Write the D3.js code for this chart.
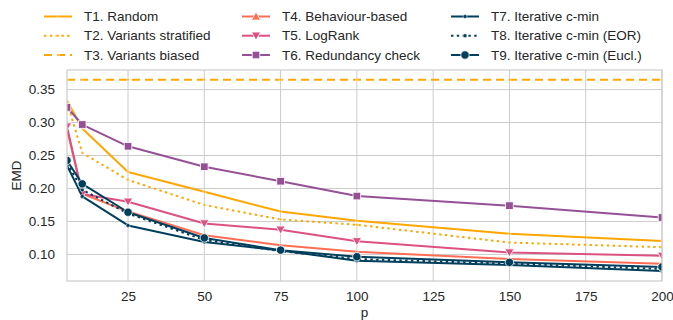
<!DOCTYPE html>
<html>
<head>
<meta charset="utf-8">
<script src="https://cdn.jsdelivr.net/npm/d3@7"></script>
<style>
  body { margin: 0; background: #fff; }
  text { font-family: "Liberation Sans", Arial, sans-serif; fill: #262626; }
</style>
</head>
<body>
<svg id="chart" width="673" height="320"></svg>
<script>
const width = 673;
const height = 320;
const margin = { top: 70, right: 11, bottom: 39, left: 67 };

// sample sizes on the x axis
const pValues = [5, 10, 25, 50, 75, 100, 150, 200];

const t1Random = [0.333, 0.291, 0.225, 0.195, 0.165, 0.151, 0.1315, 0.1205];
const t2Stratified = [0.331, 0.254, 0.213, 0.175, 0.153, 0.145, 0.118, 0.111];
const t3Biased = [0.365, 0.365, 0.365, 0.365, 0.365, 0.365, 0.365, 0.365];
const t4Behaviour = [0.29, 0.192, 0.165, 0.129, 0.114, 0.104, 0.093, 0.086];
const t5LogRank = [0.294, 0.1915, 0.180, 0.147, 0.1375, 0.120, 0.103, 0.098];
const t6Redundancy = [0.323, 0.297, 0.264, 0.233, 0.211, 0.1885, 0.174, 0.156];
const t7Iterative = [0.235, 0.188, 0.144, 0.119, 0.106, 0.0905, 0.084, 0.075];
const t8IterativeEor = [0.239, 0.198, 0.162, 0.122, 0.105, 0.093, 0.086, 0.078];
const t9IterativeEucl = [0.2425, 0.207, 0.164, 0.125, 0.1065, 0.0965, 0.088, 0.081];

const xTicks = [25, 50, 75, 100, 125, 150, 175, 200];
const yTicks = [0.10, 0.15, 0.20, 0.25, 0.30, 0.35];

const orange = '#ffa600';
const navy = '#003f5c';

const series = [
  { name: 'T1. Random', values: t1Random, color: orange, dash: null, marker: 'dot', size: 1.3 },
  { name: 'T2. Variants stratified', values: t2Stratified, color: orange, dash: '2.4,3.4', marker: 'dot', size: 1.3 },
  { name: 'T3. Variants biased', values: t3Biased, color: orange, dash: '8,5', marker: 'dot', size: 1.3 },
  { name: 'T4. Behaviour-based', values: t4Behaviour, color: '#ff6e54', dash: null, marker: 'dot', size: 1.3, legendMarker: 'triangleUp' },
  { name: 'T5. LogRank', values: t5LogRank, color: '#dd5182', dash: null, marker: 'triangleDown' },
  { name: 'T6. Redundancy check', values: t6Redundancy, color: '#955196', dash: null, marker: 'square' },
  { name: 'T7. Iterative c-min', values: t7Iterative, color: navy, dash: null, marker: 'dot', size: 2 },
  { name: 'T8. Iterative c-min (EOR)', values: t8IterativeEor, color: navy, dash: '2.4,3.4', marker: 'dot', size: 2 },
  { name: 'T9. Iterative c-min (Eucl.)', values: t9IterativeEucl, color: navy, dash: null, marker: 'circle' },
];

const svg = d3.select('#chart');

const x = d3.scaleLinear()
  .domain([5, 200])
  .range([margin.left, width - margin.right]);

const y = d3.scaleLinear()
  .domain([0.0597, 0.3797])
  .range([height - margin.bottom, margin.top]);

// grid
const grid = svg.append('g').attr('class', 'grid');
grid.selectAll('.vgrid')
  .data(xTicks)
  .enter()
  .append('line')
  .attr('x1', d => x(d))
  .attr('x2', d => x(d))
  .attr('y1', margin.top)
  .attr('y2', height - margin.bottom)
  .attr('stroke', '#cccccc')
  .attr('stroke-width', 1);
grid.selectAll('.hgrid')
  .data(yTicks)
  .enter()
  .append('line')
  .attr('x1', margin.left)
  .attr('x2', width - margin.right)
  .attr('y1', d => y(d))
  .attr('y2', d => y(d))
  .attr('stroke', '#cccccc')
  .attr('stroke-width', 1);

svg.append('defs')
  .append('clipPath')
  .attr('id', 'plot-clip')
  .append('rect')
  .attr('x', margin.left)
  .attr('y', margin.top)
  .attr('width', width - margin.left - margin.right)
  .attr('height', height - margin.top - margin.bottom);

function drawMarker(sel, type, color, size) {
  if (type === 'circle') {
    sel.append('circle').attr('r', 4.2)
      .attr('fill', color).attr('stroke', '#fff').attr('stroke-width', 0.8);
  } else if (type === 'dot') {
    sel.append('circle').attr('r', size || 1.5)
      .attr('fill', color).attr('stroke', '#fff').attr('stroke-width', 0.5);
  } else if (type === 'square') {
    sel.append('rect').attr('x', -3.8).attr('y', -3.8).attr('width', 7.6).attr('height', 7.6)
      .attr('fill', color).attr('stroke', '#fff').attr('stroke-width', 0.8);
  } else if (type === 'triangleDown') {
    sel.append('path').attr('d', 'M-4.6,-3.6L4.6,-3.6L0,4.4Z')
      .attr('fill', color).attr('stroke', '#fff').attr('stroke-width', 0.8);
  } else if (type === 'triangleUp') {
    sel.append('path').attr('d', 'M-4.6,3.6L4.6,3.6L0,-4.4Z')
      .attr('fill', color).attr('stroke', '#fff').attr('stroke-width', 0.8);
  }
}

const line = d3.line()
  .x(d => x(d.p))
  .y(d => y(d.v));

const plot = svg.append('g').attr('clip-path', 'url(#plot-clip)');

series.forEach((s) => {
  const pts = pValues.map((p, i) => ({ p, v: s.values[i] }));
  const g = plot.append('g');
  g.append('path')
    .datum(pts)
    .attr('d', line)
    .attr('fill', 'none')
    .attr('stroke', s.color)
    .attr('stroke-width', 2)
    .attr('stroke-dasharray', s.dash)
    .attr('stroke-linejoin', 'round');
  g.selectAll('.marker')
    .data(pts)
    .enter()
    .append('g')
    .attr('transform', d => `translate(${x(d.p)},${y(d.v)})`)
    .each(function () { drawMarker(d3.select(this), s.marker, s.color, s.size); });
});

// frame
svg.append('rect')
  .attr('x', margin.left)
  .attr('y', margin.top)
  .attr('width', width - margin.left - margin.right)
  .attr('height', height - margin.top - margin.bottom)
  .attr('fill', 'none')
  .attr('stroke', '#cccccc')
  .attr('stroke-width', 1.2);

// axes (labels only, seaborn whitegrid has no tick marks)
const xAxis = svg.append('g')
  .attr('transform', `translate(0,${height - margin.bottom})`)
  .call(d3.axisBottom(x).tickValues(xTicks).tickSize(0).tickPadding(10).tickFormat(d3.format('d')));
xAxis.select('.domain').remove();
xAxis.selectAll('text').style('font-size', '13.5px').attr('fill', '#262626');

const yAxis = svg.append('g')
  .attr('transform', `translate(${margin.left},0)`)
  .call(d3.axisLeft(y).tickValues(yTicks).tickSize(0).tickPadding(12).tickFormat(d3.format('.2f')));
yAxis.select('.domain').remove();
yAxis.selectAll('text').style('font-size', '13.5px').attr('fill', '#262626');

svg.append('text')
  .attr('x', x(102.5))
  .attr('y', 316.5)
  .attr('text-anchor', 'middle')
  .style('font-size', '13.5px')
  .text('p');

svg.append('text')
  .attr('transform', `translate(21,${(margin.top + height - margin.bottom) / 2}) rotate(-90)`)
  .attr('text-anchor', 'middle')
  .style('font-size', '13.5px')
  .text('EMD');

// legend, filled column by column
const legendCols = [44, 242, 451];
const legendRows = [16.5, 35.7, 55];
const legend = svg.append('g').attr('class', 'legend');
series.forEach((s, i) => {
  const col = Math.floor(i / 3);
  const row = i % 3;
  const item = legend.append('g')
    .attr('transform', `translate(${legendCols[col]},${legendRows[row]})`);
  item.append('line')
    .attr('x1', 0)
    .attr('x2', 28)
    .attr('stroke', s.color)
    .attr('stroke-width', 2)
    .attr('stroke-dasharray', s.dash);
  const m = item.append('g').attr('transform', 'translate(14,0)');
  drawMarker(m, s.legendMarker || s.marker, s.color, s.size);
  item.append('text')
    .attr('x', 40)
    .attr('dy', '0.35em')
    .style('font-size', '13.5px')
    .text(s.name);
});
</script>
</body>
</html>
